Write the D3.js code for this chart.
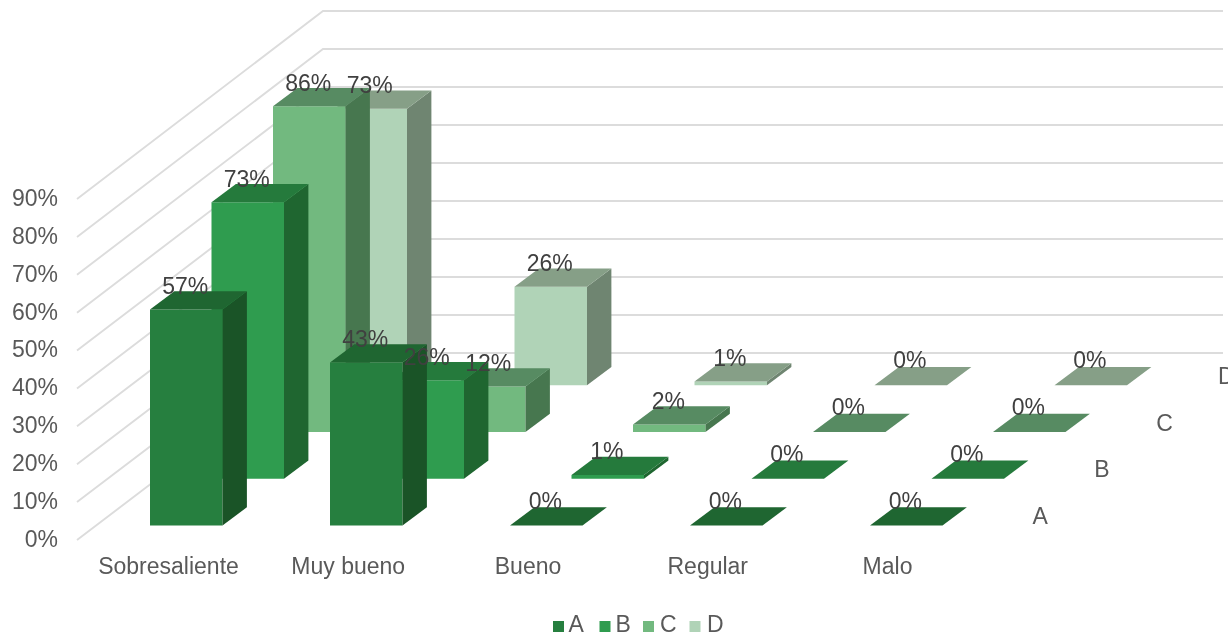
<!DOCTYPE html>
<html>
<head>
<meta charset="utf-8">
<script src="https://cdn.jsdelivr.net/npm/d3@7"></script>
<style>
html,body{margin:0;padding:0;background:#fff;overflow:hidden}
svg{display:block;filter:blur(0.45px)}
text{font-family:"Liberation Sans",Arial,sans-serif}
</style>
</head>
<body>
<svg id="c" width="1228" height="635"></svg>
<script>
const categories = ["Sobresaliente","Muy bueno","Bueno","Regular","Malo"];
const seriesNames = ["A","B","C","D"];
const valuesA = [57,43,0,0,0];
const valuesB = [73,26,1,0,0];
const valuesC = [86,12,2,0,0];
const valuesD = [73,26,1,0,0];
const percentTicks = [0,10,20,30,40,50,60,70,80,90];
const frontColors = ["#267f3f","#2f9c4f","#72b97f","#b0d3b7"];
const sideColors  = ["#1a5427","#1f6630","#47774f","#6f8571"];
const topColors   = ["#1f6631","#257a3c","#578b62","#869f87"];

const allValues = [valuesA,valuesB,valuesC,valuesD];
const svg = d3.select("#c");
const axisFont = 23;

// scales of the projected 3D box
const xCat = d3.scalePoint().domain(categories).range([150,870]);
const xSeries = d3.scalePoint().domain(seriesNames).range([0,184.5]);
const ySeries = d3.scalePoint().domain(seriesNames).range([525.5,385.3]);
const h = d3.scaleLinear().domain([0,90]).range([0,341]);
const barW = 72.5, depthX = 24.4, depthY = 18.3;

// walls
const wallX0 = 77, wallX1 = 323, wallX2 = 1223;
const yFront = d3.scaleLinear().domain([0,90]).range([540,199]);
const yBack  = d3.scaleLinear().domain([0,90]).range([353,11]);
svg.append("g").selectAll("path").data(percentTicks).join("path")
  .attr("fill","none").attr("stroke","#dcdcdc").attr("stroke-width",1.9)
  .attr("d",d=>d3.line()([[wallX0,yFront(d)],[wallX1,yBack(d)],[wallX2,yBack(d)]]));

// bars, back series first
const bars = [];
seriesNames.forEach((s,si)=>categories.forEach((c,ci)=>
  bars.push({s,si,c,v:allValues[si][ci]})));
const ordered = bars.slice().sort((a,b)=>d3.descending(a.si,b.si));
const poly = p=>d3.line()(p)+"Z";
const gBars = svg.append("g").selectAll("g").data(ordered).join("g");
gBars.each(function(d){
  const g = d3.select(this);
  const x = xCat(d.c)+xSeries(d.s), b = ySeries(d.s), t = b-h(d.v);
  if(d.v>0){
    g.append("path").attr("fill",frontColors[d.si])
      .attr("d",poly([[x,b],[x+barW,b],[x+barW,t],[x,t]]));
    g.append("path").attr("fill",sideColors[d.si])
      .attr("d",poly([[x+barW,b],[x+barW+depthX,b-depthY],[x+barW+depthX,t-depthY],[x+barW,t]]));
  }
  g.append("path").attr("fill",topColors[d.si])
    .attr("d",poly([[x,t],[x+barW,t],[x+barW+depthX,t-depthY],[x+depthX,t-depthY]]));
});

// data labels
svg.append("g").selectAll("text").data(bars).join("text")
  .attr("text-anchor","middle").attr("font-size",axisFont).attr("fill","#404040")
  .attr("x",d=>xCat(d.c)+xSeries(d.s)+barW/2-1)
  .attr("y",d=>ySeries(d.s)-h(d.v)-(d.v===0?17:15.5))
  .text(d=>d.v+"%");

// value axis
const gy = svg.append("g").attr("transform","translate(58,-1)")
  .call(d3.axisLeft(yFront).tickValues(percentTicks).tickFormat(d=>d+"%").tickSize(0).tickPadding(0));
gy.select(".domain").remove();
gy.selectAll("text").attr("font-size",axisFont).attr("font-family",null).attr("fill","#595959");

// category axis
const xLabels = d3.scalePoint().domain(categories).range([168,887]);
const gx = svg.append("g").attr("transform","translate(0,558)")
  .call(d3.axisBottom(xLabels).tickSize(0).tickPadding(0));
gx.select(".domain").remove();
gx.selectAll("text").attr("font-size",axisFont).attr("font-family",null).attr("fill","#595959");

// series (depth) labels
const xDepthLabel = d3.scalePoint().domain(seriesNames).range([1032.5,1218]);
const yDepthLabel = d3.scalePoint().domain(seriesNames).range([524,384]);
svg.append("g").selectAll("text").data(seriesNames).join("text")
  .attr("font-size",axisFont).attr("fill","#595959")
  .attr("x",d=>xDepthLabel(d)).attr("y",d=>yDepthLabel(d)).text(d=>d);

// legend
const legendSwatchX = [553,599.5,643,689.5];
const legendTextX = [568.5,615.5,660,707];
const lg = svg.append("g").selectAll("g").data(seriesNames).join("g");
lg.append("rect").attr("x",(d,i)=>legendSwatchX[i]).attr("y",621).attr("width",11).attr("height",11)
  .attr("fill",(d,i)=>frontColors[i]);
lg.append("text").attr("x",(d,i)=>legendTextX[i]).attr("y",632)
  .attr("font-size",axisFont).attr("fill","#595959").text(d=>d);
</script>
</body>
</html>
